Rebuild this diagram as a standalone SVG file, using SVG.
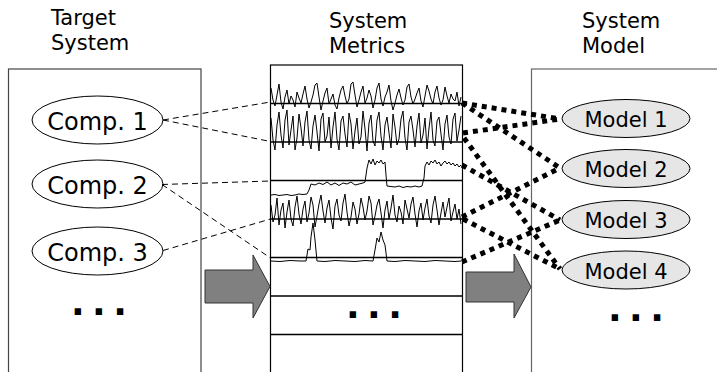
<svg xmlns="http://www.w3.org/2000/svg" width="717" height="372" viewBox="0 0 717 372">
  <style>
    .title { font-family: "DejaVu Sans", sans-serif; font-size: 21px; fill: #000; }
    .comp { font-family: "DejaVu Sans", sans-serif; font-size: 24px; fill: #000; text-anchor: middle; }
    .model { font-family: "DejaVu Sans", sans-serif; font-size: 21px; fill: #000; text-anchor: middle; }
    .more { font-family: "DejaVu Sans", sans-serif; font-weight: bold; font-size: 36px; letter-spacing: 7.4px; fill: #000; }
    .panel { fill: #fff; stroke: #444; stroke-width: 1.2; }
    .compNode { fill: #fff; stroke: #000; stroke-width: 1; }
    .modelNode { fill: #e6e6e6; stroke: #000; stroke-width: 1; }
    .row { stroke: #000; stroke-width: 1.6; }
    .sig { fill: none; stroke: #000; stroke-width: 1; stroke-linejoin: round; }
    .dash { fill: none; stroke: #000; stroke-width: 1; stroke-dasharray: 6 4; }
    .dot { fill: none; stroke: #000; stroke-width: 5; stroke-dasharray: 5 5; }
    .arrow { fill: #808080; stroke: #333; stroke-width: 1; }
  </style>

  <!-- column headings -->
  <text class="title" x="51" y="25">Target</text>
  <text class="title" x="51" y="50">System</text>
  <text class="title" x="329" y="28">System</text>
  <text class="title" x="329" y="53">Metrics</text>
  <text class="title" x="582" y="28">System</text>
  <text class="title" x="582" y="53">Model</text>

  <!-- target system panel -->
  <g id="target-system">
    <rect class="panel" x="8.5" y="69" width="192.5" height="320"/>
    <text class="more" x="71" y="315">...</text>
  </g>
  <g id="comp1">
    <ellipse class="compNode" cx="97.5" cy="120" rx="65.5" ry="24"/>
    <text class="comp" x="97.5" y="130">Comp. 1</text>
  </g>
  <g id="comp2">
    <ellipse class="compNode" cx="97.5" cy="184" rx="65.5" ry="24"/>
    <text class="comp" x="97.5" y="194">Comp. 2</text>
  </g>
  <g id="comp3">
    <ellipse class="compNode" cx="97.5" cy="251" rx="65.5" ry="24"/>
    <text class="comp" x="97.5" y="261">Comp. 3</text>
  </g>

  <!-- system metrics panel with one time series per row -->
  <g id="system-metrics">
    <rect x="270.5" y="65" width="192" height="320" fill="#fff" stroke="#000" stroke-width="1.2"/>
    <polyline class="sig" points="271,88 273,100 275,106 277,95 279,84 281,102 283,109 285,97 287,90 289,104 291,96 293,100 295,107 297,92 299,98 301,103 303,94 305,86 307,99 309,108 311,102 313,95 315,85 317,83 319,97 321,110 323,101 325,93 327,88 329,104 331,99 333,94 335,105 337,109 339,98 341,90 343,86 345,96 347,104 349,99 351,84 353,82 355,95 357,107 359,100 361,92 363,86 365,103 367,98 369,90 371,96 373,108 375,100 377,88 379,83 381,99 383,106 385,97 387,92 389,85 391,101 393,110 395,103 397,95 399,89 401,98 403,105 405,100 407,87 409,84 411,97 413,104 415,99 417,93 419,88 421,101 423,107 425,96 427,85 429,91 431,99 433,104 435,92 437,86 439,98 441,105 443,100 445,87 447,96 449,103 451,94 453,99 455,101 457,92 459,106 461,97"/>
    <polyline class="sig" points="271,118 273,140 275,150 277,125 279,112 281,135 283,148 285,120 287,110 289,145 291,130 293,116 295,150 297,138 299,114 301,128 303,146 305,122 307,111 309,140 311,149 313,126 315,115 317,132 319,151 321,119 323,113 325,142 327,136 329,117 331,148 333,127 335,112 337,139 339,150 341,121 343,116 345,134 347,147 349,113 351,124 353,149 355,131 357,118 359,144 361,137 363,111 365,129 367,151 369,123 371,115 373,141 375,146 377,120 379,112 381,136 383,150 385,125 387,117 389,133 391,148 393,114 395,127 397,145 399,139 401,119 403,111 405,138 407,150 409,122 411,116 413,130 415,147 417,126 419,113 421,143 423,135 425,118 427,149 429,128 431,112 433,140 435,146 437,121 439,117 441,134 443,150 445,124 447,115 449,137 451,144 453,119 455,113 457,141 459,130 461,116"/>
    <polyline class="sig" points="271,195 275,194.5 279,195.5 283,195 287,194.5 291,195.5 295,195 299,194 303,194.5 307,194 309,190 311,184 315,185 319,183 323,184.5 327,182 331,185 335,183 339,185.5 343,183 347,184 351,182 355,185 359,184 363,183 365,182 367,168 369,160 371,164 373,159 375,165 377,161 379,163 381,160 383,164 385,162 386,175 387,186 391,186.5 395,187 399,186 403,187.5 407,186.5 411,187 415,186 419,187 422,186 424,178 425,166 427,162 429,165 431,161 433,163 435,160 437,164 439,162 441,166 443,163 445,161 447,164 449,162 451,165 453,163 455,166 457,164 459,167 461,165"/>
    <polyline class="sig" points="271,205 273,222 275,215 277,198 279,225 281,210 283,203 285,228 287,212 289,200 291,219 293,226 295,207 297,196 299,214 301,224 303,209 305,201 307,222 309,213 311,197 313,205 315,227 317,216 319,204 321,195 323,211 325,223 327,208 329,200 331,218 333,229 335,206 337,199 339,215 341,221 343,203 345,194 347,212 349,226 351,217 353,202 355,209 357,224 359,214 361,198 363,207 365,220 367,211 369,196 371,203 373,225 375,216 377,205 379,199 381,213 383,228 385,210 387,201 389,219 391,208 393,195 395,215 397,222 399,206 401,212 403,224 405,200 407,209 409,218 411,204 413,197 415,214 417,227 419,211 421,203 423,220 425,208 427,199 429,216 431,223 433,205 435,196 437,210 439,225 441,213 443,202 445,217 447,207 449,198 451,221 453,212 455,204 457,219 459,209 461,224"/>
    <polyline class="sig" points="271,261 280,261.5 290,260.5 300,261 306,261 308,249 310,250 311,237 313,223 315,240 317,261 325,261.5 335,260.5 345,261 355,261.5 365,260.5 373,261 375,250 377,238 379,242 381,232 383,240 385,245 387,261 395,261.5 405,260.5 415,261 425,261.5 435,260.5 445,261 455,261.5 461,261"/>
    <line class="row" x1="270.5" y1="103.5" x2="462.5" y2="103.5"/>
    <line class="row" x1="270.5" y1="142" x2="462.5" y2="142"/>
    <line class="row" x1="270.5" y1="180.5" x2="462.5" y2="180.5"/>
    <line class="row" x1="270.5" y1="219" x2="462.5" y2="219"/>
    <line class="row" x1="270.5" y1="257.5" x2="462.5" y2="257.5"/>
    <line class="row" x1="270.5" y1="296" x2="462.5" y2="296"/>
    <line class="row" x1="270.5" y1="334.5" x2="462.5" y2="334.5"/>
    <text class="more" x="346" y="318">...</text>
  </g>

  <!-- system model panel -->
  <g id="system-model">
    <rect x="531.5" y="69" width="200" height="320" fill="#fff" stroke="#666" stroke-width="1.2"/>
    <text class="more" x="608" y="321">...</text>
  </g>
  <g id="model1">
    <ellipse class="modelNode" cx="626" cy="118.5" rx="64" ry="19"/>
    <text class="model" x="626" y="127">Model 1</text>
  </g>
  <g id="model2">
    <ellipse class="modelNode" cx="626" cy="168.5" rx="64" ry="19"/>
    <text class="model" x="626" y="177">Model 2</text>
  </g>
  <g id="model3">
    <ellipse class="modelNode" cx="626" cy="219.5" rx="64" ry="19"/>
    <text class="model" x="626" y="228">Model 3</text>
  </g>
  <g id="model4">
    <ellipse class="modelNode" cx="626" cy="270" rx="64" ry="19"/>
    <text class="model" x="626" y="278.5">Model 4</text>
  </g>

  <!-- flow arrows -->
  <g id="arrows">
    <polygon class="arrow" points="205,270 253,270 253,255 270,286.5 253,318 253,303 205,303"/>
    <polygon class="arrow" points="466,272 514,272 514,254 531,287 514,318 514,302 466,302"/>
  </g>

  <!-- connectors -->
  <g id="connectors">
    <line class="dash" x1="163" y1="120" x2="270.5" y2="102"/>
    <line class="dash" x1="163" y1="120" x2="270.5" y2="141.5"/>
    <line class="dash" x1="162" y1="184.5" x2="270.5" y2="181"/>
    <line class="dash" x1="162" y1="184.5" x2="270.5" y2="258"/>
    <line class="dash" x1="163" y1="250.5" x2="270.5" y2="219"/>

    <line class="dot" x1="462" y1="103" x2="560" y2="119"/>
    <line class="dot" x1="462" y1="103" x2="560" y2="168"/>
    <line class="dot" x1="463" y1="133" x2="560" y2="119"/>
    <line class="dot" x1="464" y1="138" x2="560" y2="269"/>
    <line class="dot" x1="462" y1="165" x2="560" y2="220"/>
    <line class="dot" x1="462" y1="217" x2="560" y2="168"/>
    <line class="dot" x1="463" y1="219" x2="560" y2="269"/>
    <line class="dot" x1="462" y1="262" x2="560" y2="220"/>
  </g>
</svg>
